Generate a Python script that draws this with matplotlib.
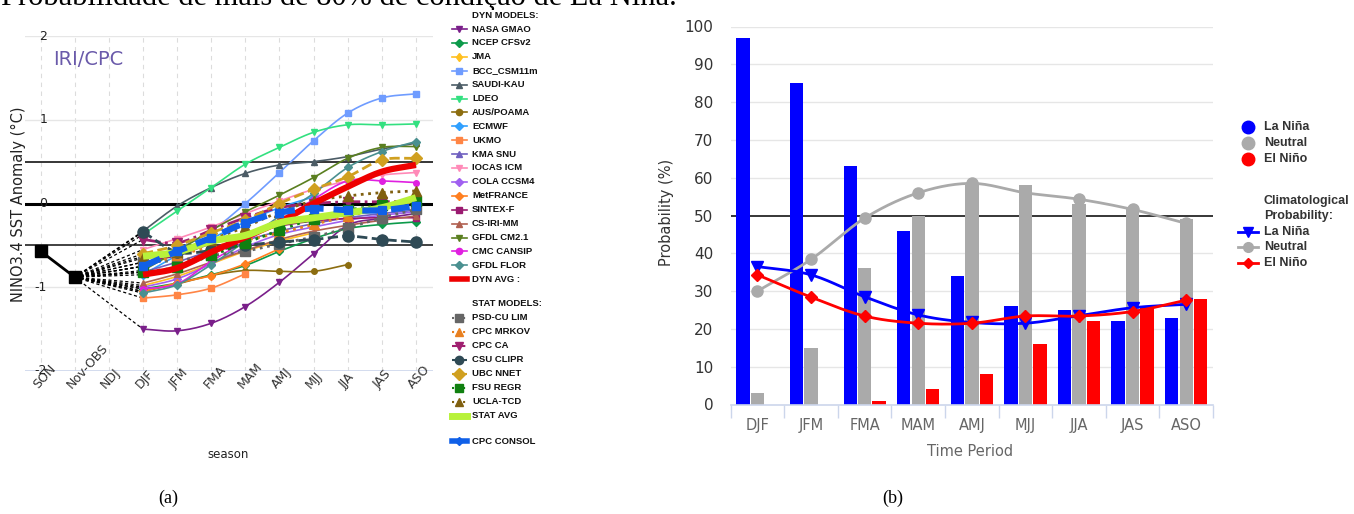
import numpy as np
import matplotlib
matplotlib.use("Agg")
import matplotlib.pyplot as plt
from matplotlib.lines import Line2D
import matplotlib.transforms as mtransforms

# ---------------- data: left panel (NINO3.4 plume) ----------------
seasons = ['SON', 'Nov-OBS', 'NDJ', 'DJF', 'JFM', 'FMA', 'MAM', 'AMJ', 'MJJ', 'JJA', 'JAS', 'ASO']
observed = [-0.57, -0.88]          # SON, Nov-OBS
# forecasts start at DJF
nasa_gmao = [-1.50, -1.52, -1.43, -1.23, -0.94, -0.60, -0.26, -0.18, -0.12]
ncep_cfsv2 = [-1.02, -0.95, -0.85, -0.74, -0.57, -0.42, -0.30, -0.25, -0.22]
jma = [-0.98, -0.87, -0.72, -0.57, -0.45, -0.35]
bcc_csm11m = [-0.75, -0.55, -0.33, 0.00, 0.37, 0.75, 1.08, 1.26, 1.31]
saudi_kau = [-0.33, -0.03, 0.19, 0.36, 0.46, 0.50, 0.56, 0.65, 0.72]
ldeo = [-0.37, -0.09, 0.19, 0.47, 0.67, 0.85, 0.94, 0.94, 0.95]
aus_poama = [-1.05, -0.96, -0.86, -0.80, -0.81, -0.81, -0.73]
ecmwf = [-0.85, -0.62, -0.42, -0.22, -0.05, 0.08]
ukmo = [-1.13, -1.09, -1.01, -0.84]
kma_snu = [-0.82, -0.70, -0.56, -0.44, -0.33, -0.24, -0.17, -0.12, -0.08]
iocas_icm = [-0.55, -0.42, -0.28, -0.12, 0.03, 0.17, 0.27, 0.34, 0.37]
cola_ccsm4 = [-1.00, -0.90, -0.72, -0.52, -0.37, -0.28, -0.20, -0.14, -0.10]
metfrance = [-1.05, -0.95, -0.86, -0.72, -0.54]
sintex_f = [-0.70, -0.62, -0.48, -0.37, -0.27, -0.21, -0.18, -0.17, -0.17]
cs_iri_mm = [-0.95, -0.84, -0.70, -0.56, -0.43, -0.33, -0.26, -0.20, -0.15]
gfdl_cm21 = [-0.80, -0.57, -0.32, -0.10, 0.10, 0.31, 0.54, 0.67, 0.68]
cmc_cansip = [-1.02, -0.96, -0.69, -0.45, -0.22, 0.05, 0.27, 0.27, 0.25]
gfdl_flor = [-1.07, -0.97, -0.73, -0.45, -0.15, 0.12, 0.43, 0.62, 0.74]
dyn_avg = [-0.85, -0.77, -0.58, -0.40, -0.22, 0.00, 0.20, 0.38, 0.46]

psd_cu_lim = [-0.70, -0.68, -0.62, -0.57, -0.48, -0.40, -0.29, -0.17, -0.07]
cpc_mrkov = [-0.75, -0.62, -0.52, -0.44, -0.35, -0.25, -0.15, -0.06, 0.03]
cpc_ca = [-0.43, -0.47, -0.32, -0.17, -0.05, 0.00, 0.02, 0.02, 0.03]
csu_clipr = [-0.34, -0.58, -0.56, -0.50, -0.46, -0.43, -0.39, -0.43, -0.46]
ubc_nnet = [-0.60, -0.50, -0.35, -0.20, 0.00, 0.17, 0.32, 0.52, 0.54]
fsu_regr = [-0.82, -0.76, -0.62, -0.47, -0.32, -0.18, -0.08, -0.02, 0.03]
ucla_tcd = [-0.65, -0.58, -0.43, -0.28, -0.10, 0.03, 0.09, 0.13, 0.15]
stat_avg = [-0.63, -0.58, -0.45, -0.38, -0.23, -0.17, -0.11, -0.05, 0.07]
cpc_consol = [-0.75, -0.57, -0.41, -0.23, -0.11, -0.06, -0.08, -0.08, -0.03]

# ---------------- data: right panel (probabilities) ----------------
periods = ['DJF', 'JFM', 'FMA', 'MAM', 'AMJ', 'MJJ', 'JJA', 'JAS', 'ASO']
la_nina = [97, 85, 63, 46, 34, 26, 25, 22, 23]
neutral = [3, 15, 36, 50, 58, 58, 53, 52, 49]
el_nino = [0, 0, 1, 4, 8, 16, 22, 26, 28]
clim_la_nina = [36.5, 34.3, 28.5, 23.7, 21.7, 21.5, 23.5, 25.6, 26.5]
clim_neutral = [30.0, 38.4, 49.3, 56.0, 58.5, 56.0, 54.3, 51.6, 47.9]
clim_el_nino = [34.3, 28.4, 23.4, 21.5, 21.5, 23.4, 23.4, 24.6, 27.6]


def smooth(xs, ys, n=16):
    """Catmull-Rom curve through the given points (drawing only)."""
    p = np.column_stack([np.asarray(xs, float), np.asarray(ys, float)])
    if len(p) < 3:
        return p[:, 0], p[:, 1]
    ext = np.vstack([2 * p[0] - p[1], p, 2 * p[-1] - p[-2]])
    out = []
    t = np.linspace(0, 1, n, endpoint=False)[:, None]
    for i in range(1, len(ext) - 2):
        P0, P1, P2, P3 = ext[i - 1], ext[i], ext[i + 1], ext[i + 2]
        seg = 0.5 * (2 * P1 + (-P0 + P2) * t + (2 * P0 - 5 * P1 + 4 * P2 - P3) * t ** 2
                     + (-P0 + 3 * P1 - 3 * P2 + P3) * t ** 3)
        out.append(seg)
    out.append(p[-1][None, :])
    out = np.vstack(out)
    return out[:, 0], out[:, 1]


W, H = 1354, 514
fig = plt.figure(figsize=(W / 100, H / 100), dpi=100)
fig.patch.set_facecolor('white')


def fx(px):
    return px / W


def fy(py):
    return 1 - py / H


# ---------------- left panel ----------------
axL = fig.add_axes([fx(25), fy(371), fx(433) - fx(25), fy(36) - fy(371)])
axL.set_xlim(-0.46, 11.5)
axL.set_ylim(-2, 2)
for s in axL.spines.values():
    s.set_visible(False)
axL.set_xticks([])
axL.set_yticks([])
for i in range(len(seasons)):
    axL.plot([i, i], [-2, 2], color='#dcdcdc', lw=0.8, dashes=(4, 4), zorder=0)
for v in [-1, 1, 2]:
    axL.axhline(v, color='#e6e6e6', lw=1, zorder=0)
axL.axhline(-2, color='#ccd6eb', lw=1.2, zorder=0)
axL.axhline(0, color='black', lw=2.2, zorder=1)
axL.axhline(0.5, color='black', lw=1.1, zorder=1)
axL.axhline(-0.5, color='#333333', lw=1.3, zorder=1)

for v, lab in zip([2, 1, 0, -1, -2], ['2', '1', '0', '-1', '-2']):
    axL.text(0.19, v, lab, ha='right', va='center', fontsize=9, color='#222222', zorder=6)

off = mtransforms.ScaledTranslation(-3 / 100, -18 / 100, fig.dpi_scale_trans)
for i, lab in enumerate(seasons):
    axL.text(i, -2, lab, rotation=48, rotation_mode='anchor', ha='left', va='baseline',
             fontsize=9, color='#333333', transform=axL.transData + off, clip_on=False)

axL.text(0.5 - 0.15, 1.72, 'IRI/CPC', fontsize=14, color='#6a5aaa', va='center', ha='left')
fig.text(fx(18), fy(204), 'NINO3.4 SST Anomaly (°C)', rotation=90, ha='center', va='center',
         fontsize=10.5, color='#222222')
fig.text(fx(228), fy(455), 'season', ha='center', va='center', fontsize=8.5, color='#222222')

dyn_models = [
    ('NASA GMAO', nasa_gmao, '#7a1f8a', 'v'),
    ('NCEP CFSv2', ncep_cfsv2, '#0c9a4a', 'D'),
    ('JMA', jma, '#ffc020', 'd'),
    ('BCC_CSM11m', bcc_csm11m, '#6f9cff', 's'),
    ('SAUDI-KAU', saudi_kau, '#4c5c66', '^'),
    ('LDEO', ldeo, '#33e080', 'v'),
    ('AUS/POAMA', aus_poama, '#8c6d10', 'o'),
    ('ECMWF', ecmwf, '#30a0ff', 'D'),
    ('UKMO', ukmo, '#ff8545', 's'),
    ('KMA SNU', kma_snu, '#7060c0', '^'),
    ('IOCAS ICM', iocas_icm, '#ff8ab8', 'v'),
    ('COLA CCSM4', cola_ccsm4, '#a060f0', 'D'),
    ('MetFRANCE', metfrance, '#ff7f20', 'D'),
    ('SINTEX-F', sintex_f, '#9a1a70', 's'),
    ('CS-IRI-MM', cs_iri_mm, '#b06050', '^'),
    ('GFDL CM2.1', gfdl_cm21, '#5a7f20', 'v'),
    ('CMC CANSIP', cmc_cansip, '#e020e0', 'o'),
    ('GFDL FLOR', gfdl_flor, '#4a9090', 'D'),
]
stat_models = [
    ('PSD-CU LIM', psd_cu_lim, '#666666', 's', ':', 6.5),
    ('CPC MRKOV', cpc_mrkov, '#e88020', '^', ':', 6.5),
    ('CPC CA', cpc_ca, '#a02070', 'v', '-.', 6.5),
    ('CSU CLIPR', csu_clipr, '#2f4a55', 'o', '--', 8),
    ('UBC NNET', ubc_nnet, '#d0a020', 'D', '--', 6),
    ('FSU REGR', fsu_regr, '#108010', 's', ':', 6.5),
    ('UCLA-TCD', ucla_tcd, '#806010', '^', ':', 7),
]

start = seasons.index('DJF')

# dashed fan from the last observation to each forecast start
all_series = [m[1] for m in dyn_models] + [m[1] for m in stat_models] + [stat_avg, cpc_consol]
for vals in all_series:
    axL.plot([1, start], [observed[1], vals[0]], color='black', lw=0.9, dashes=(2.5, 2), zorder=2)

axL.plot(range(len(observed)), observed, color='black', lw=2, marker='s', ms=8, zorder=5)

for name, vals, col, mk in dyn_models:
    xs = np.arange(start, start + len(vals))
    sx, sy = smooth(xs, vals)
    axL.plot(sx, sy, color=col, lw=1.2, zorder=3)
    axL.plot(xs, vals, ls='none', marker=mk, color=col, ms=4, zorder=3)

for name, vals, col, mk, ls, ms in stat_models:
    xs = np.arange(start, start + len(vals))
    sx, sy = smooth(xs, vals)
    axL.plot(sx, sy, color=col, lw=2, ls=ls, zorder=4)
    axL.plot(xs, vals, ls='none', marker=mk, color=col, ms=ms, zorder=4)

xs = np.arange(start, start + len(dyn_avg))
sx, sy = smooth(xs, dyn_avg)
axL.plot(sx, sy, color='#ee0000', lw=4.5, zorder=5, solid_capstyle='butt')
sx, sy = smooth(xs, stat_avg)
axL.plot(sx, sy, color='#b8f23a', lw=5, zorder=5.5, solid_capstyle='butt')
sx, sy = smooth(xs, cpc_consol)
axL.plot(sx, sy, color='#1060e8', lw=4.5, dashes=(3, 1.6), zorder=6)
axL.plot(xs, cpc_consol, ls='none', marker='s', color='#1060e8', ms=6, zorder=6)

# top sentence, cut by the top edge as in the reference
serif = ['Liberation Serif', 'DejaVu Serif']
fig.text(fx(677), fy(5), 'Probabilidade de mais de 80% de condição de La Niña.', ha='right',
         va='baseline', fontsize=22, family=serif, color='black', zorder=0)

# left legend (drawn in figure coordinates)
leg_font = dict(fontsize=6.8, fontweight='bold', color='#111111', va='center', ha='left',
                family=['Liberation Sans', 'DejaVu Sans'])


def leg_row(py, label, col=None, mk=None, ls='-', lw=1.2, ms=4.5, dashes=None):
    if col is not None:
        kw = dict(color=col, lw=lw, transform=fig.transFigure)
        if dashes is not None:
            kw['dashes'] = dashes
        else:
            kw['ls'] = ls
        fig.add_artist(Line2D([fx(452), fx(467)], [fy(py), fy(py)], **kw))
        if mk is not None:
            fig.add_artist(Line2D([fx(459.5)], [fy(py)], marker=mk, ms=ms, color=col, ls='none',
                                  transform=fig.transFigure))
    t = fig.text(fx(472), fy(py), label, **leg_font)
    t.set_bbox(dict(facecolor='white', edgecolor='none', pad=0.3))


leg_row(15, 'DYN MODELS:')
for k, (name, vals, col, mk) in enumerate(dyn_models):
    leg_row(29 + 13.9 * k, name, col, mk)
leg_row(279, 'DYN AVG :', '#ee0000', None, lw=4)
leg_row(304, 'STAT MODELS:')
for k, (name, vals, col, mk, ls, ms) in enumerate(stat_models):
    leg_row(318 + 14 * k, name, col, mk, ls=ls, lw=1.5, ms=6)
leg_row(416, 'STAT AVG', '#b8f23a', None, lw=5)
leg_row(441, 'CPC CONSOL', '#1060e8', 'D', lw=4, ms=4)

# ---------------- right panel ----------------
axR = fig.add_axes([fx(730.7), fy(404.5), fx(1213) - fx(730.7), fy(26.5) - fy(404.5)])
axR.set_xlim(-0.5, len(periods) - 0.5)
axR.set_ylim(0, 100)
for s in ['top', 'right', 'left']:
    axR.spines[s].set_visible(False)
axR.spines['bottom'].set_color('#ccd6eb')
axR.spines['bottom'].set_linewidth(1.2)
axR.set_yticks(np.arange(0, 101, 10))
axR.tick_params(axis='y', length=0, pad=12.5, labelsize=11, labelcolor='#333333')
axR.set_xticks(np.arange(len(periods)))
axR.set_xticklabels(periods)
axR.set_xticks(np.arange(len(periods) + 1) - 0.5, minor=True)
axR.tick_params(axis='x', which='major', length=0, pad=10, labelsize=10.5, labelcolor='#666666')
axR.tick_params(axis='x', which='minor', length=9.5, width=1, color='#ccd6eb')
for v in range(10, 101, 10):
    if v != 50:
        axR.axhline(v, color='#e6e6e6', lw=1, zorder=0)
axR.axhline(50, color='black', lw=1.1, zorder=0.5)

x = np.arange(len(periods))
bw = 0.25
axR.bar(x - 0.27, la_nina, width=bw, color='#0000ff', zorder=2)
axR.bar(x, neutral, width=bw, color='#aaaaaa', zorder=2)
axR.bar(x + 0.27, el_nino, width=bw, color='#ff0000', zorder=2)

for vals, col, mk, ms in [(clim_neutral, '#aaaaaa', 'o', 8),
                          (clim_la_nina, '#0000ff', 'v', 8),
                          (clim_el_nino, '#ff0000', 'D', 6)]:
    sx, sy = smooth(x, vals)
    axR.plot(sx, sy, color=col, lw=2, zorder=3)
    axR.plot(x, vals, ls='none', marker=mk, color=col, ms=ms, zorder=3)

fig.text(fx(667), fy(212), 'Probability (%)', rotation=90, ha='center', va='center',
         fontsize=10.5, color='#333333')
fig.text(fx(970), fy(452), 'Time Period', ha='center', va='center', fontsize=10.5, color='#666666')

# right legend
rl_font = dict(fontsize=9, fontweight='bold', color='#333333', va='center', ha='left',
               family=['Liberation Sans', 'DejaVu Sans'])
for py, lab, col in [(127.3, 'La Niña', '#0000ff'), (143.3, 'Neutral', '#aaaaaa'), (159, 'El Niño', '#ff0000')]:
    fig.add_artist(Line2D([fx(1248)], [fy(py)], marker='o', ms=9, color=col, ls='none',
                          transform=fig.transFigure))
    fig.text(fx(1264), fy(py), lab, **rl_font)
fig.text(fx(1264), fy(200.7), 'Climatological', **rl_font)
fig.text(fx(1264), fy(216), 'Probability:', **rl_font)
for py, lab, col, mk, ms in [(231.7, 'La Niña', '#0000ff', 'v', 7), (247.3, 'Neutral', '#aaaaaa', 'o', 7),
                             (263.3, 'El Niño', '#ff0000', 'D', 5.5)]:
    fig.add_artist(Line2D([fx(1238), fx(1258)], [fy(py), fy(py)], color=col, lw=2,
                          transform=fig.transFigure))
    fig.add_artist(Line2D([fx(1248)], [fy(py)], marker=mk, ms=ms, color=col, ls='none',
                          transform=fig.transFigure))
    fig.text(fx(1264), fy(py), lab, **rl_font)

# captions
fig.text(fx(168), fy(498), '(a)', ha='center', va='center', fontsize=13, family=serif)
fig.text(fx(893), fy(498), '(b)', ha='center', va='center', fontsize=13, family=serif)

fig.savefig('out.png', dpi=100, facecolor='white')
